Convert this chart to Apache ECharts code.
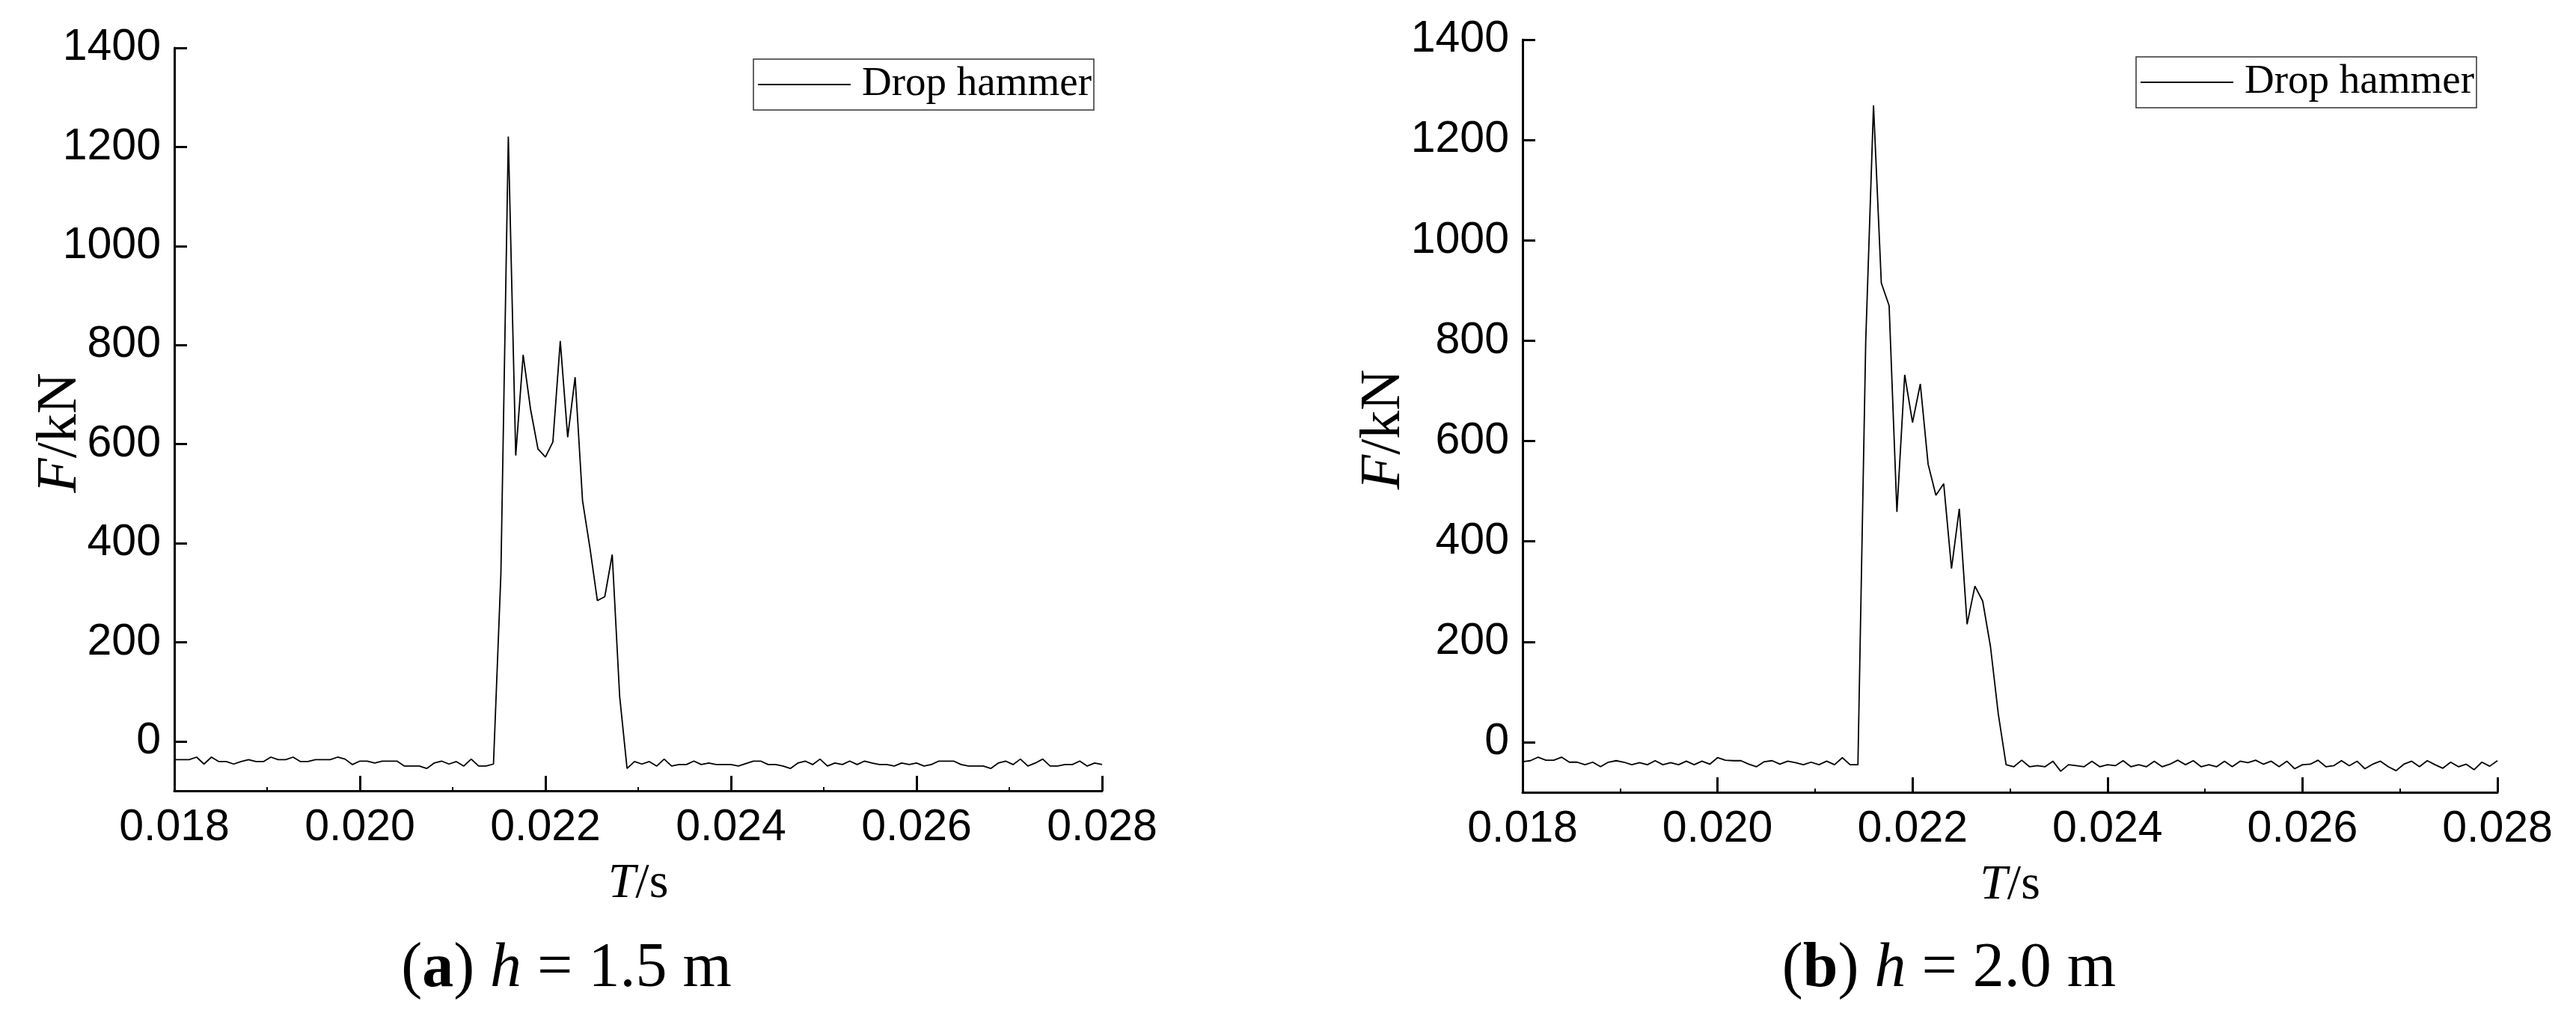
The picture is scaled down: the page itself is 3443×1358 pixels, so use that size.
<!DOCTYPE html>
<html><head><meta charset="utf-8">
<script src="https://cdn.jsdelivr.net/npm/echarts@6/dist/echarts.min.js"></script>
<style>html,body{margin:0;padding:0;background:#fff}#c{width:3443px;height:1358px}</style>
</head><body><div id="c"></div>
<script>
// sampling grid of the recorded signal (s)
const T_START = 0.018;
const T_STEP = 0.00008;
const SAMPLES = 126;

// (a) h = 1.5 m  – force in kN
const forceA = [
  -37,-37,-37,-32,-46,-32,-41,-41,-46,-41,
  -37,-41,-41,-32,-37,-37,-32,-41,-41,-37,
  -37,-37,-32,-36,-47,-40,-40,-44,-40,-40,
  -40,-50,-50,-50,-55,-44,-40,-46,-41,-50,
  -36,-50,-50,-46,
  338,1221,577,780,670,590,574,604,808,614,735,486,390,284,292,377,91,
  -55,-41,-46,-41,-50,-36,-50,-47,-47,-40,
  -47,-44,-47,-47,-47,-50,-45,-40,-40,-47,
  -47,-50,-55,-44,-40,-47,-36,-50,-44,-47,
  -40,-47,-40,-44,-47,-47,-50,-44,-47,-44,
  -50,-47,-40,-40,-40,-47,-50,-50,-50,-55,
  -44,-40,-47,-36,-50,-44,-36,-50,-50,-47,
  -47,-40,-50,-44,-47
];

// (b) h = 2.0 m  – force in kN
const forceB = [
  -39,-37,-30,-36,-36,-30,-40,-40,-45,-40,
  -49,-40,-37,-40,-45,-41,-45,-37,-45,-41,
  -45,-38,-45,-38,-44,-31,-36,-37,-37,-44,
  -49,-39,-37,-44,-38,-41,-45,-40,-45,-38,
  -45,-31,-45,-45,
  798,1269,915,870,459,732,637,714,554,492,515,346,465,235,311,281,190,56,
  -45,-49,-36,-49,-47,-49,-38,-58,-45,-47,
  -49,-38,-49,-45,-47,-37,-49,-45,-49,-38,
  -49,-44,-36,-45,-37,-49,-45,-49,-38,-49,
  -38,-41,-36,-44,-38,-49,-38,-53,-45,-44,
  -36,-49,-47,-37,-47,-38,-53,-44,-38,-49,
  -57,-44,-38,-49,-37,-45,-52,-40,-49,-44,
  -55,-40,-48,-37
];

const yTicks = [0,200,400,600,800,1000,1200,1400];
const xTicks = [0.018,0.020,0.022,0.024,0.026,0.028];
const seriesName = 'Drop hammer';
const captionA = ['a', '1.5 m'];
const captionB = ['b', '2.0 m'];

const times = [];
for (let i = 0; i < SAMPLES; i++) times.push(+(T_START + i * T_STEP).toFixed(5));

const SANS = "'Liberation Sans', Arial, sans-serif";
const SERIF = "'Liberation Serif', 'Times New Roman', serif";

function xAxis(gridIndex, nameGap) {
  return {
    type: 'value', gridIndex, min: 0.018, max: 0.028, interval: 0.002,
    name: '{i|T}/s', nameLocation: 'middle', nameGap,
    nameTextStyle: { fontFamily: SERIF, fontSize: 66, color: '#000',
      rich: { i: { fontFamily: SERIF, fontSize: 66, fontStyle: 'italic', color: '#000' } } },
    axisLine: { show: true, onZero: false, lineStyle: { color: '#000', width: 3 } },
    axisTick: { show: true, inside: true, length: 20, customValues: xTicks, lineStyle: { color: '#000', width: 3 } },
    minorTick: { show: true, splitNumber: 2, length: 5, lineStyle: { color: '#000', width: 2 } },
    axisLabel: { fontFamily: SANS, fontSize: 59, color: '#000', margin: 20, customValues: xTicks,
      formatter: v => v.toFixed(3) },
    splitLine: { show: false }, minorSplitLine: { show: false }
  };
}
function yAxis(gridIndex, nameGap) {
  return {
    type: 'value', gridIndex, min: -100, max: 1400, interval: 100,
    name: '{i|F}/kN', nameLocation: 'middle', nameGap, nameMoveOverlap: false,
    nameTextStyle: { fontFamily: SERIF, fontSize: 76, color: '#000', padding: [0, 36, 0, 0],
      rich: { i: { fontFamily: SERIF, fontSize: 76, fontStyle: 'italic', color: '#000' } } },
    axisLine: { show: true, onZero: false, lineStyle: { color: '#000', width: 3 } },
    axisTick: { show: true, inside: true, length: 17, customValues: yTicks, lineStyle: { color: '#000', width: 3 } },
    axisLabel: { fontFamily: SANS, fontSize: 59, color: '#000', margin: 18, customValues: yTicks,
      formatter: v => String(v) },
    splitLine: { show: false }
  };
}
function legend(left, top) {
  return {
    left, top, data: [seriesName], icon: 'rect', itemWidth: 124, itemHeight: 2,
    borderColor: '#333', borderWidth: 1.5, borderRadius: 0, padding: [4, 3, 4, 6],
    selectedMode: false,
    textStyle: { fontFamily: SERIF, fontSize: 55, color: '#000', lineHeight: 60, padding: [0, 0, 0, 10] }
  };
}
function caption(x, y, c) {
  const base = { fontFamily: SERIF, fontSize: 84, fill: '#000', color: '#000' };
  return {
    type: 'text', x, y,
    style: {
      text: '{p|(}{b|' + c[0] + '}{p|) }{i|h}{p| = ' + c[1] + '}',
      align: 'center', verticalAlign: 'middle', fontFamily: SERIF, fontSize: 84, fill: '#000',
      rich: {
        p: Object.assign({}, base),
        b: Object.assign({ fontWeight: 'bold' }, base),
        i: Object.assign({ fontStyle: 'italic' }, base)
      }
    }
  };
}

const chart = echarts.init(document.getElementById('c'), null, { renderer: 'canvas' });
chart.setOption({
  animation: false,
  backgroundColor: '#fff',
  grid: [
    { left: 233, top: 64, width: 1240, height: 993, containLabel: false },
    { left: 2035, top: 53, width: 1303, height: 1006, containLabel: false }
  ],
  xAxis: [xAxis(0, 92), xAxis(1, 92)],
  yAxis: [yAxis(0, 114), yAxis(1, 147)],
  legend: [legend(1007, 79), legend(2855, 76)],
  graphic: [caption(757, 1296, captionA), caption(2605, 1296, captionB)],
  series: [
    { name: seriesName, type: 'line', xAxisIndex: 0, yAxisIndex: 0, symbol: 'none',
      lineStyle: { color: '#000', width: 1.8 }, itemStyle: { color: '#000' },
      data: times.map((t, i) => [t, forceA[i]]) },
    { name: seriesName, type: 'line', xAxisIndex: 1, yAxisIndex: 1, symbol: 'none',
      lineStyle: { color: '#000', width: 1.8 }, itemStyle: { color: '#000' },
      data: times.map((t, i) => [t, forceB[i]]) }
  ]
});
</script></body></html>
